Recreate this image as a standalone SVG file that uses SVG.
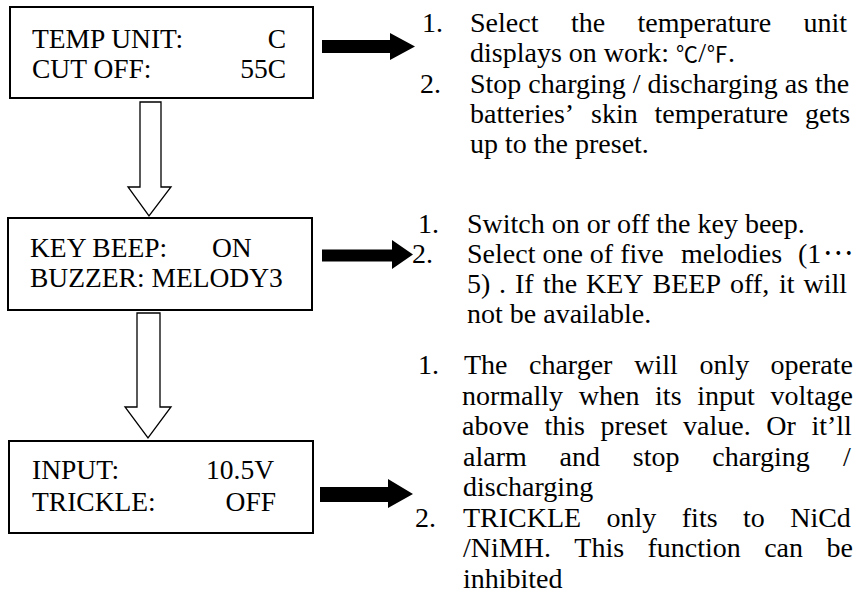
<svg xmlns="http://www.w3.org/2000/svg" width="857" height="607" viewBox="0 0 857 607">
<style>
.box{fill:#fff;stroke:#000;stroke-width:2}
.hollow{fill:#fff;stroke:#000;stroke-width:1.3;stroke-linejoin:miter}
.solid{fill:#000;stroke:none}
.bt{font-family:"Liberation Serif","Times New Roman",serif;font-size:27.5px;fill:#000}
.t{font-family:"Liberation Serif","Times New Roman",serif;font-size:28px;fill:#000}
.cjk{font-family:"Noto Sans CJK SC","Liberation Serif",serif;font-size:22px}
</style>
<rect width="857" height="607" fill="#fff"/>
<g id="connectors">
<polygon class="hollow" points="140,102 161,102 161,187 171,187 149,216 128,187 140,187"/>
<polygon class="hollow" points="137,313 160,313 160,407 171,407 148,438 125,407 137,407"/>
<polygon class="solid" points="322,40 390,40 390,33 415,46.5 390,60 390,53 322,53"/>
<polygon class="solid" points="322,249.5 392,249.5 392,240 413,254.5 392,269 392,261.5 322,261.5"/>
<polygon class="solid" points="320,487 388,487 388,479 413,494 388,508 388,502 320,502"/>
</g>
<g id="node-temp">
<rect class="box" x="10" y="7" width="303" height="91"/>
<text class="bt" x="32" y="48">TEMP UNIT:</text>
<text class="bt" x="286" y="48" text-anchor="end">C</text>
<text class="bt" x="32" y="78">CUT OFF:</text>
<text class="bt" x="286" y="78" text-anchor="end">55C</text>
</g>
<g id="node-beep">
<rect class="box" x="8" y="218" width="304" height="92"/>
<text class="bt" x="30" y="257">KEY BEEP:</text>
<text class="bt" x="212" y="257">ON</text>
<text class="bt" x="30" y="287">BUZZER: MELODY3</text>
</g>
<g id="node-input">
<rect class="box" x="9" y="441" width="304" height="92"/>
<text class="bt" x="32" y="479">INPUT:</text>
<text class="bt" x="274" y="479" text-anchor="end">10.5V</text>
<text class="bt" x="32" y="510.5">TRICKLE:</text>
<text class="bt" x="276" y="510.5" text-anchor="end">OFF</text>
</g>
<g id="desc-temp" class="t">
<text y="32"><tspan x="422">1.</tspan><tspan x="470">Select</tspan><tspan x="571">the</tspan><tspan x="637.5">temperature</tspan><tspan x="803.5">unit</tspan></text>
<text y="62"><tspan x="470">displays on work: </tspan><tspan class="cjk">℃</tspan>/<tspan class="cjk">℉</tspan>.</text>
<text y="92.5"><tspan x="420">2.</tspan><tspan x="470">Stop charging / discharging as the</tspan></text>
<text y="123"><tspan x="470">batteries’</tspan><tspan x="591">skin</tspan><tspan x="654.5">temperature</tspan><tspan x="805">gets</tspan></text>
<text y="153"><tspan x="470">up to the preset.</tspan></text>
</g>
<g id="desc-beep" class="t">
<text y="233"><tspan x="418">1.</tspan><tspan x="467">Switch on or off the key beep.</tspan></text>
<text y="263"><tspan x="412">2.</tspan><tspan x="467">Select one of five</tspan><tspan x="681">melodies</tspan><tspan x="798">(1</tspan><tspan x="823" dy="-8" font-family="Noto Sans CJK SC, sans-serif" font-size="28">…</tspan></text>
<text y="293"><tspan x="467">5)</tspan><tspan x="499">.</tspan><tspan x="515">If</tspan><tspan x="543">the</tspan><tspan x="586">KEY</tspan><tspan x="652.5">BEEP</tspan><tspan x="730">off,</tspan><tspan x="779">it</tspan><tspan x="803.5">will</tspan></text>
<text y="323"><tspan x="467">not be available.</tspan></text>
</g>
<g id="desc-input" class="t">
<text y="374"><tspan x="418">1.</tspan><tspan x="464">The</tspan><tspan x="529">charger</tspan><tspan x="634.3">will</tspan><tspan x="699.4">only</tspan><tspan x="770.6">operate</tspan></text>
<text y="404.5"><tspan x="462">normally</tspan><tspan x="578.8">when</tspan><tspan x="655.1">its</tspan><tspan x="697.3">input</tspan><tspan x="770.6">voltage</tspan></text>
<text y="435"><tspan x="462">above</tspan><tspan x="544.5">this</tspan><tspan x="600.6">preset</tspan><tspan x="683.1">value.</tspan><tspan x="766.3">Or</tspan><tspan x="811.4">it’ll</tspan></text>
<text y="465.5"><tspan x="463">alarm</tspan><tspan x="559.6">and</tspan><tspan x="632.8">stop</tspan><tspan x="712.3">charging</tspan><tspan x="843.1">/</tspan></text>
<text y="496"><tspan x="463">discharging</tspan></text>
<text y="526.5"><tspan x="415">2.</tspan><tspan x="463">TRICKLE</tspan><tspan x="606.6">only</tspan><tspan x="681.8">fits</tspan><tspan x="743">to</tspan><tspan x="790.2">NiCd</tspan></text>
<text y="557"><tspan x="463">/NiMH.</tspan><tspan x="574.3">This</tspan><tspan x="647.5">function</tspan><tspan x="764.2">can</tspan><tspan x="826.5">be</tspan></text>
<text y="587.5"><tspan x="463">inhibited</tspan></text>
</g>
</svg>
